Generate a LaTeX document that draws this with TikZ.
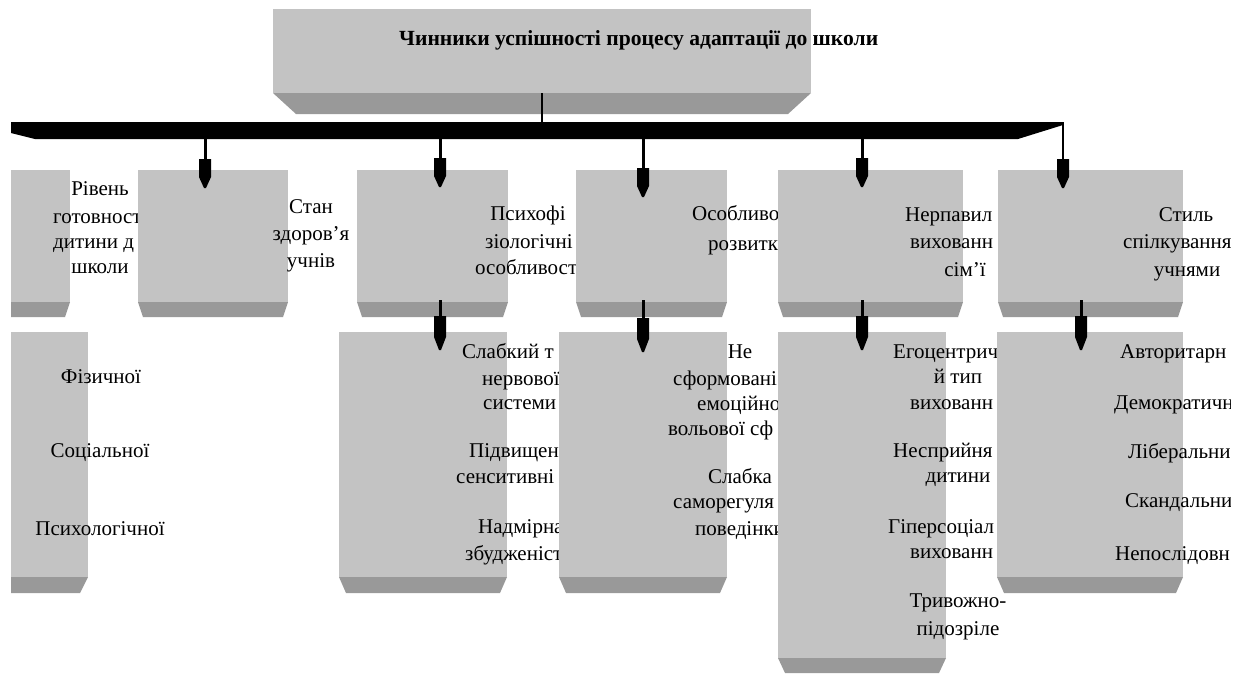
\documentclass[tikz,border=0pt]{standalone}
\usepackage{fontspec}
\setmainfont{Liberation Serif}
\definecolor{boxlight}{HTML}{C3C3C3}
\definecolor{boxdark}{HTML}{999999}
\newcommand\gbox[7]{%
  \node[boxnode, anchor=north west, minimum width={#4-#2}, minimum height={#5-#3}] (#1) at (#2,#3) {};
  \fill[boxdark] (#1.south west) -- (#1.south east) -- ([xshift=-#7pt,yshift=-#6pt]#1.south east) -- ([xshift=#7pt,yshift=-#6pt]#1.south west) -- cycle;}
\newcommand\txtc[4]{\node[lbl, anchor=base] (#1) at (#2,#3) {#4};}
\newcommand\txtw[4]{\node[lbl, anchor=base west] (#1) at (#2,#3) {#4};}
\begin{document}
\begin{tikzpicture}[x=1pt,y=-1pt,
  boxnode/.style={fill=boxlight, draw=none, inner sep=0pt, outer sep=0pt},
  lbl/.style={inner sep=0pt, font=\fontsize{21}{25}\selectfont},
  ttl/.style={inner sep=0pt, font=\bfseries\fontsize{21.6}{26}\selectfont},
  shaft/.style={line width=3pt},
  pics/phead/.style n args={2}{code={\fill (-6,0) -- (6,0) -- (6,#1) -- (1,{#1+#2}) -- (-1,{#1+#2}) -- (-6,#1) -- cycle;}}]
\useasboundingbox (0,0) rectangle (1245,673);
\fill[white] (0,0) rectangle (1245,673);
\clip (11,0) rectangle (1230,673);
% title
\gbox{title}{273}{9}{811}{93}{21}{23}
\node[ttl, anchor=base west] (ttext) at (399,45) {Чинники успішності процесу адаптації до школи};
% bar
\fill (11,122) -- (1063,122) -- (1063,125) -- (1018,139) -- (35,139) -- (11,133) -- cycle;
\coordinate (bart) at (542,122);
\coordinate (barb) at (542,139);
% level 1
\gbox{b1}{-10}{170}{70}{302}{15}{5}
\txtc{t11}{100}{195}{Рівень}
\txtw{t12}{53}{223}{готовност}
\txtw{t13}{53}{248}{дитини д}
\txtc{t14}{100}{273}{школи}
\gbox{b2}{138}{170}{288}{302}{15}{5}
\txtc{t21}{311}{213}{Стан}
\txtc{t22}{311}{240}{здоров’я}
\txtc{t23}{311}{267}{учнів}
\gbox{b3}{357}{170}{508}{302}{15}{5}
\txtc{t31}{528}{220}{Психофі}
\txtw{t32}{485}{248}{зіологічні}
\txtw{t33}{475}{274}{особливост}
\gbox{b4}{576}{170}{727}{302}{15}{5}
\txtw{t41}{692}{220}{Особливос}
\txtw{t42}{708}{250}{розвитк}
\gbox{b5}{778}{170}{963}{302}{15}{5}
\txtw{t51}{905}{221}{Нерпавил}
\txtw{t52}{910}{248}{вихованн}
\txtc{t53}{965}{276}{сім’ї}
\gbox{b6}{998}{170}{1183}{302}{15}{5}
\txtc{t61}{1186}{221}{Стиль}
\txtw{t62}{1123}{248}{спілкування}
\txtc{t63}{1187}{276}{учнями}
% level 2
\gbox{c1}{-10}{332}{88}{577}{16}{8}
\txtc{u11}{101}{383}{Фізичної}
\txtc{u12}{100}{457}{Соціальної}
\txtc{u13}{100}{535}{Психологічної}
\gbox{c2}{339}{332}{507}{577}{16}{7}
\txtw{u21}{462}{358}{Слабкий т}
\txtw{u22}{482}{385}{нервової}
\txtw{u23}{483}{409}{системи}
\txtw{u24}{469}{457}{Підвищен}
\txtw{u25}{456}{483}{сенситивні}
\txtw{u26}{478}{533}{Надмірна}
\txtw{u27}{465}{560}{збудженіст}
\gbox{c3}{559}{332}{727}{577}{16}{7}
\txtc{u31}{740}{358}{Не}
\txtw{u32}{673}{385}{сформовані}
\txtw{u33}{697}{410}{емоційно}
\txtw{u34}{668}{435}{вольової сф}
\txtc{u35}{740}{483}{Слабка}
\txtw{u36}{673}{508}{саморегуля}
\txtw{u37}{695}{535}{поведінки}
\gbox{c4}{778}{332}{946}{658}{15}{7}
\txtw{u41}{893}{358}{Егоцентрич}
\txtc{u42}{958}{383}{й тип}
\txtw{u43}{910}{409}{вихованн}
\txtw{u44}{893}{457}{Несприйня}
\txtc{u45}{958}{482}{дитини}
\txtw{u46}{888}{533}{Гіперсоціал}
\txtw{u47}{910}{558}{вихованн}
\txtc{u48}{958}{607}{Тривожно-}
\txtc{u49}{958}{635}{підозріле}
\gbox{c5}{997}{332}{1183}{577}{16}{7}
\txtw{u51}{1120}{358}{Авторитарн}
\txtw{u52}{1114}{409}{Демократичн}
\txtw{u53}{1128}{458}{Ліберальни}
\txtw{u54}{1125}{507}{Скандальни}
\txtw{u55}{1115}{560}{Непослідовн}
% connectors
\draw[line width=2pt] (title.south) -- (bart);
\coordinate (a1) at (205,159);
\coordinate (a2) at (440,158);
\coordinate (a3) at (643,168);
\coordinate (a4) at (862,158);
\coordinate (a5) at (1063,159);
\draw[shaft] (barb -| a1) -- (a1); \pic at (a1) {phead={18}{11}};
\draw[shaft] (barb -| a2) -- (a2); \pic at (a2) {phead={18}{11}};
\draw[shaft] (barb -| a3) -- (a3); \pic at (a3) {phead={18}{11}};
\draw[shaft] (barb -| a4) -- (a4); \pic at (a4) {phead={18}{11}};
\draw[line width=2.5pt] (bart -| a5) -- (a5); \pic at (a5) {phead={18}{11}};
\coordinate (d1) at (440,316);
\coordinate (d2) at (643,318);
\coordinate (d3) at (862,316);
\coordinate (d4) at (1081,316);
\draw[shaft] ([yshift=2pt]b3.south -| d1) -- (d1); \pic at (d1) {phead={21}{13}};
\draw[shaft] ([yshift=2pt]b4.south -| d2) -- (d2); \pic at (d2) {phead={21}{13}};
\draw[shaft] ([yshift=2pt]b5.south -| d3) -- (d3); \pic at (d3) {phead={21}{13}};
\draw[shaft] ([yshift=2pt]b6.south -| d4) -- (d4); \pic at (d4) {phead={21}{13}};
\end{tikzpicture}
\end{document}
